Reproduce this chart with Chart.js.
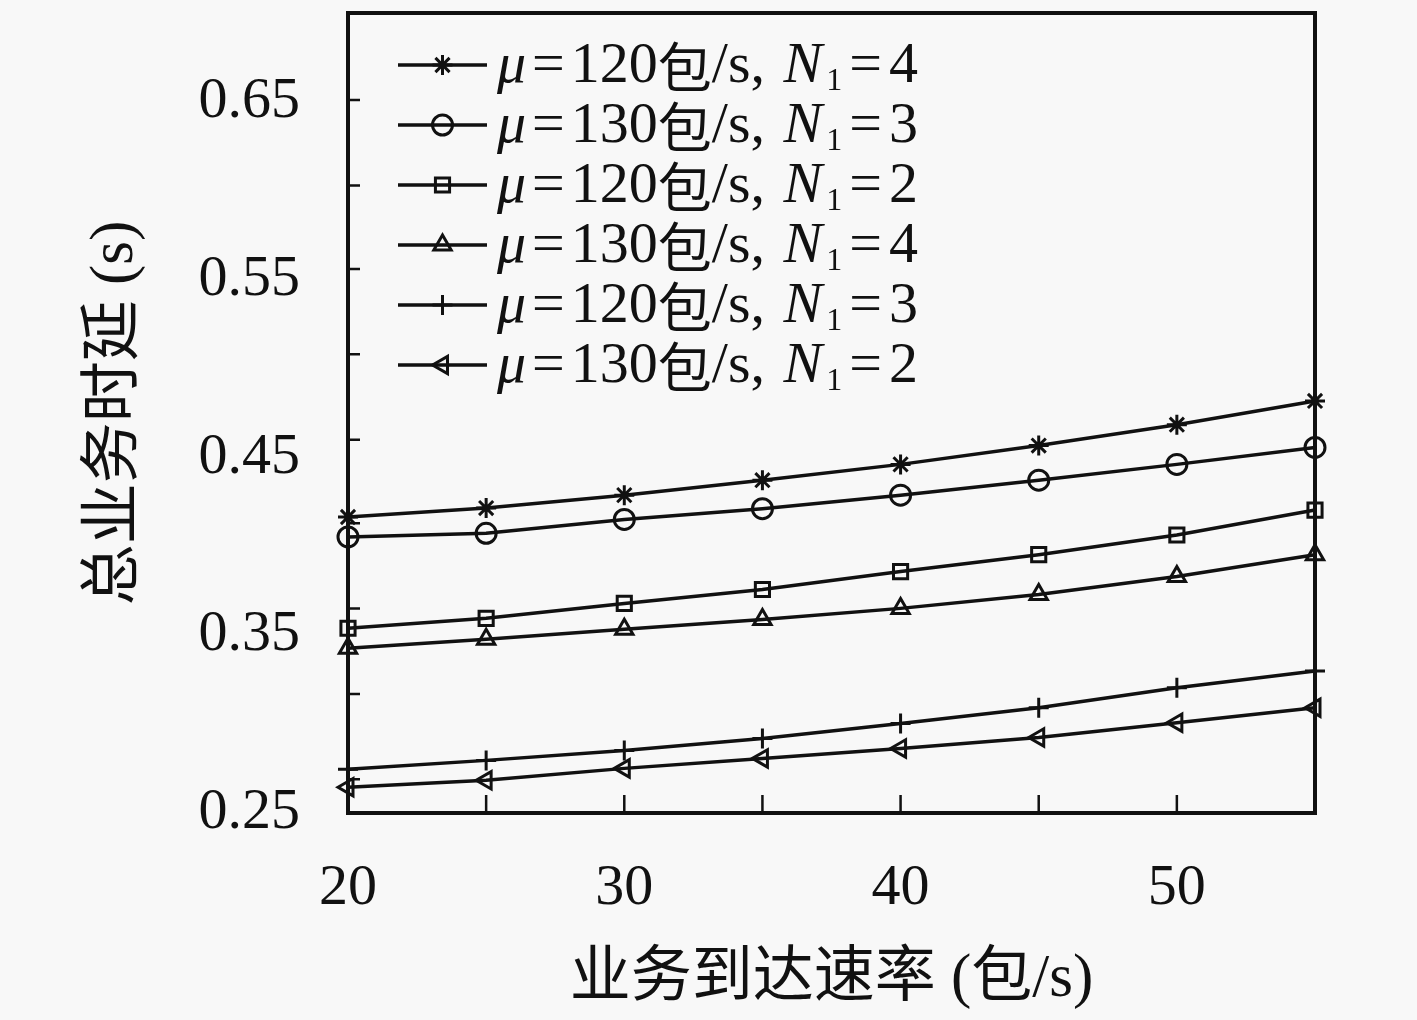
<!DOCTYPE html>
<html>
<head>
<meta charset="utf-8">
<script src="https://cdn.jsdelivr.net/npm/chart.js@4.4.1/dist/chart.umd.min.js"></script>
<style>
  html, body { margin: 0; padding: 0; background: #f8f8f8; }
  #wrap { width: 1417px; height: 1020px; }
</style>
</head>
<body>
<div id="wrap"><canvas id="delayChart" width="1417" height="1020"></canvas></div>
<script>
// arrival rate (packets/s)
const arrivalRates = [20, 25, 30, 35, 40, 45, 50, 55];

// legend parameters per series
const muValues = [120, 130, 120, 130, 120, 130];
const n1Values = [4, 3, 2, 4, 3, 2];
const markerStyles = ['star', 'circle', 'rect', 'triangle', 'cross', 'triangle'];
const markerRotations = [0, 0, 0, 0, 0, -90];

// total service delay (s)
const delayMu120N4 = [0.4165, 0.4215, 0.4288, 0.4372, 0.4461, 0.4567, 0.4684, 0.4818];
const delayMu130N3 = [0.4053, 0.4073, 0.4151, 0.4212, 0.4288, 0.4372, 0.4461, 0.4556];
const delayMu120N2 = [0.3539, 0.3595, 0.3679, 0.3757, 0.3858, 0.3953, 0.4064, 0.4204];
const delayMu130N4 = [0.3427, 0.3478, 0.3534, 0.3589, 0.3651, 0.3729, 0.3830, 0.3953];
const delayMu120N3 = [0.2746, 0.2796, 0.2852, 0.2919, 0.3003, 0.3092, 0.3204, 0.3299];
const delayMu130N2 = [0.2645, 0.2684, 0.2751, 0.2807, 0.2863, 0.2925, 0.3008, 0.3092];

// tick labels and tick marks
const xTickLabels = [20, 30, 40, 50];
const yTickLabels = ['0.25', '0.35', '0.45', '0.55', '0.65'];
const yTickMarks = [0.269, 0.317, 0.365, 0.413, 0.460, 0.508, 0.556, 0.603, 0.651];

const allSeries = [delayMu120N4, delayMu130N3, delayMu120N2, delayMu130N4, delayMu120N3, delayMu130N2];

const SERIF = "'Liberation Serif', 'Noto Sans CJK SC', serif";
const CJK = "'Noto Sans CJK SC', sans-serif";
const INK = '#111';

const datasets = allSeries.map((vals, i) => ({
    label: 'μ=' + muValues[i] + '包/s, N1=' + n1Values[i],
    data: vals.map((v, j) => ({ x: arrivalRates[j], y: v })),
    borderColor: INK,
    borderWidth: 3.5,
    pointStyle: markerStyles[i],
    rotation: markerRotations[i],
    pointRadius: 10,
    pointBorderWidth: 3,
    pointBorderColor: INK,
    pointBackgroundColor: 'rgba(0,0,0,0)',
    tension: 0,
    clip: false
}));

// frame + inward tick marks, MATLAB style
const framePlugin = {
    id: 'frame',
    afterDatasetsDraw(chart) {
        const { ctx, chartArea: a, scales } = chart;
        ctx.save();
        ctx.strokeStyle = INK;
        ctx.lineWidth = 2.5;
        ctx.beginPath();
        scales.x.ticks.forEach(t => {
            const px = scales.x.getPixelForValue(t.value);
            ctx.moveTo(px, a.bottom);
            ctx.lineTo(px, a.bottom - 18);
        });
        yTickMarks.forEach(v => {
            const py = scales.y.getPixelForValue(v);
            ctx.moveTo(a.left, py);
            ctx.lineTo(a.left + 12, py);
        });
        ctx.stroke();
        ctx.lineWidth = 4;
        ctx.strokeRect(a.left, a.top, a.right - a.left, a.bottom - a.top);
        ctx.restore();
    }
};

// legend with italic symbols and subscript
const legendPlugin = {
    id: 'texLegend',
    afterDraw(chart) {
        const ctx = chart.ctx;
        const size = 58;
        const x0 = 398, x1 = 487, tx = 497, y0 = 65, dy = 60;
        ctx.save();
        ctx.fillStyle = INK;
        ctx.strokeStyle = INK;
        ctx.textBaseline = 'middle';
        datasets.forEach((ds, i) => {
            const y = y0 + i * dy;
            ctx.lineWidth = 3.5;
            ctx.beginPath();
            ctx.moveTo(x0, y);
            ctx.lineTo(x1, y);
            ctx.stroke();
            if (Chart.helpers && Chart.helpers.drawPoint) {
                ctx.save();
                ctx.lineWidth = 3;
                ctx.fillStyle = 'rgba(0,0,0,0)';
                Chart.helpers.drawPoint(ctx, {
                    pointStyle: ds.pointStyle, radius: 10, rotation: ds.rotation, borderWidth: 3
                }, (x0 + x1) / 2, y);
                ctx.restore();
            }
            const pieces = [
                { t: 'μ', f: 'italic ' + size + 'px ' + SERIF },
                { t: '=', f: size + 'px ' + SERIF, pad: 6 },
                { t: String(muValues[i]), f: size + 'px ' + SERIF },
                { t: '包', f: (size - 4) + 'px ' + CJK },
                { t: '/s, ', f: size + 'px ' + SERIF },
                { t: 'N', f: 'italic ' + size + 'px ' + SERIF, pad: 4 },
                { t: '1', f: Math.round(size * 0.55) + 'px ' + SERIF, dy: 15 },
                { t: '=', f: size + 'px ' + SERIF, pad: 7 },
                { t: String(n1Values[i]), f: size + 'px ' + SERIF }
            ];
            let x = tx;
            pieces.forEach(p => {
                ctx.font = p.f;
                x += p.pad || 0;
                ctx.fillText(p.t, x, y + 2 + (p.dy || 0));
                x += ctx.measureText(p.t).width + (p.pad || 0);
            });
        });
        ctx.restore();
    }
};

const ctx = document.getElementById('delayChart').getContext('2d');
const delayChart = new Chart(ctx, {
    type: 'line',
    data: { datasets: datasets },
    plugins: [framePlugin, legendPlugin],
    options: {
        responsive: false,
        animation: false,
        layout: { padding: { top: 10, right: 102, left: 0, bottom: 0 } },
        plugins: {
            legend: { display: false },
            tooltip: { enabled: false }
        },
        scales: {
            x: {
                type: 'linear',
                min: 20,
                max: 55,
                afterFit: s => { s.height = 207; s.paddingLeft = 0; s.paddingRight = 0; },
                ticks: {
                    stepSize: 5,
                    autoSkip: false,
                    maxRotation: 0,
                    padding: 41,
                    color: INK,
                    font: { family: SERIF, size: 58 },
                    callback: v => xTickLabels.includes(v) ? String(v) : ''
                },
                grid: { display: false, drawTicks: false },
                border: { display: false },
                title: {
                    display: true,
                    text: '业务到达速率 (包/s)',
                    color: INK,
                    font: { family: SERIF, size: 61 },
                    padding: { top: 0, bottom: 3 }
                }
            },
            y: {
                type: 'linear',
                min: 0.25,
                max: 0.70,
                afterFit: s => { s.width = 348; s.paddingTop = 0; s.paddingBottom = 0; },
                afterBuildTicks: s => { s.ticks = yTickLabels.map(t => ({ value: parseFloat(t) })); },
                ticks: {
                    padding: 48,
                    color: INK,
                    font: { family: SERIF, size: 58 },
                    callback: v => v.toFixed(2)
                },
                grid: { display: false, drawTicks: false },
                border: { display: false },
                title: {
                    display: true,
                    text: '总业务时延 (s)',
                    color: INK,
                    font: { family: SERIF, size: 61 },
                    padding: { top: 79, bottom: 0 }
                }
            }
        }
    }
});
</script>
</body>
</html>
